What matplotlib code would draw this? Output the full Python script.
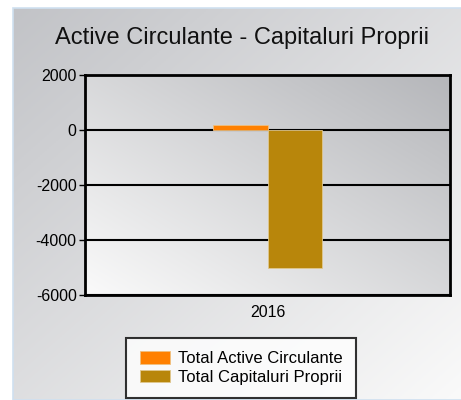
import numpy as np
import matplotlib.pyplot as plt
from matplotlib.patches import Rectangle

# chart data
categories = ["2016"]
seriesNames = ["Total Active Circulante", "Total Capitaluri Proprii"]
activeCirculante = [180]
capitaluriProprii = [-5030]
yTicks = [-6000, -4000, -2000, 0, 2000]
barColors = ["#FF8000", "#B8860B"]

plt.rcParams["font.family"] = ["Liberation Sans", "DejaVu Sans"]

W, H = 461, 400
fig = plt.figure(figsize=(W / 100, H / 100), dpi=100)
fig.patch.set_facecolor("white")

# outer panel background: darker top-left, lighter bottom-right
bg = fig.add_axes([13 / W, 0, 1 - 13 / W, 1 - 8 / H])
gx, gy = np.meshgrid(np.linspace(0, 1, 200), np.linspace(0, 1, 200))
t = np.clip((gx + gy) / 2, 0, 1)
bgImg = np.dstack([0.76 + 0.22 * t, 0.765 + 0.215 * t, 0.78 + 0.2 * t])
bg.imshow(bgImg, extent=[0, 1, 0, 1], origin="upper", aspect="auto")
bg.set_axis_off()
fig.add_artist(Rectangle((13 / W, 0), 1, 1 - 8 / H, transform=fig.transFigure,
                         fill=False, edgecolor="#cfe0f0", linewidth=1.2))

# plot area
ax = fig.add_axes([85 / W, (H - 295) / H, (450 - 85) / W, (295 - 75) / H])
pt = np.clip((gx + (1 - gy)) / 2, 0, 1)
plotImg = np.dstack([0.98 - 0.27 * pt, 0.98 - 0.265 * pt, 0.98 - 0.25 * pt])
ax.imshow(plotImg, extent=[-0.5, 0.5, -6000, 2000], origin="upper", aspect="auto", zorder=0)

x = np.arange(len(categories))
barWidth = 0.15
ax.bar(x - barWidth / 2, activeCirculante, barWidth, color=barColors[0], label=seriesNames[0],
       edgecolor="#f0c080", linewidth=0.6, zorder=3)
ax.bar(x + barWidth / 2, capitaluriProprii, barWidth, color=barColors[1], label=seriesNames[1],
       edgecolor="#e0c890", linewidth=0.6, zorder=3)

ax.set_xlim(-0.5, 0.5)
ax.set_ylim(-6000, 2000)
ax.set_yticks(yTicks)
ax.set_yticklabels([str(v) for v in yTicks], fontsize=11.5)
ax.set_xticks(x)
ax.set_xticklabels(categories, fontsize=11.5)
ax.tick_params(axis="x", length=0, pad=7)
ax.tick_params(axis="y", length=4, width=1, pad=2)
for v in yTicks:
    ax.axhline(v, color="black", linewidth=1.5, zorder=2)
for s in ax.spines.values():
    s.set_linewidth(2)
    s.set_color("black")

fig.text(242 / W, 1 - 38 / H, "Active Circulante - Capitaluri Proprii",
         ha="center", va="center", fontsize=17, color="#111111")

leg = fig.legend(loc="center", bbox_to_anchor=(241 / W, 1 - 368 / H), fontsize=12,
                 frameon=True, fancybox=False, handlelength=1.8, handleheight=0.8,
                 borderpad=0.8, labelspacing=0.2, handletextpad=0.5, borderaxespad=0)
leg.get_frame().set_edgecolor("black")
leg.get_frame().set_linewidth(1.5)
leg.get_frame().set_facecolor("white")

fig.savefig("out.png", dpi=100)
